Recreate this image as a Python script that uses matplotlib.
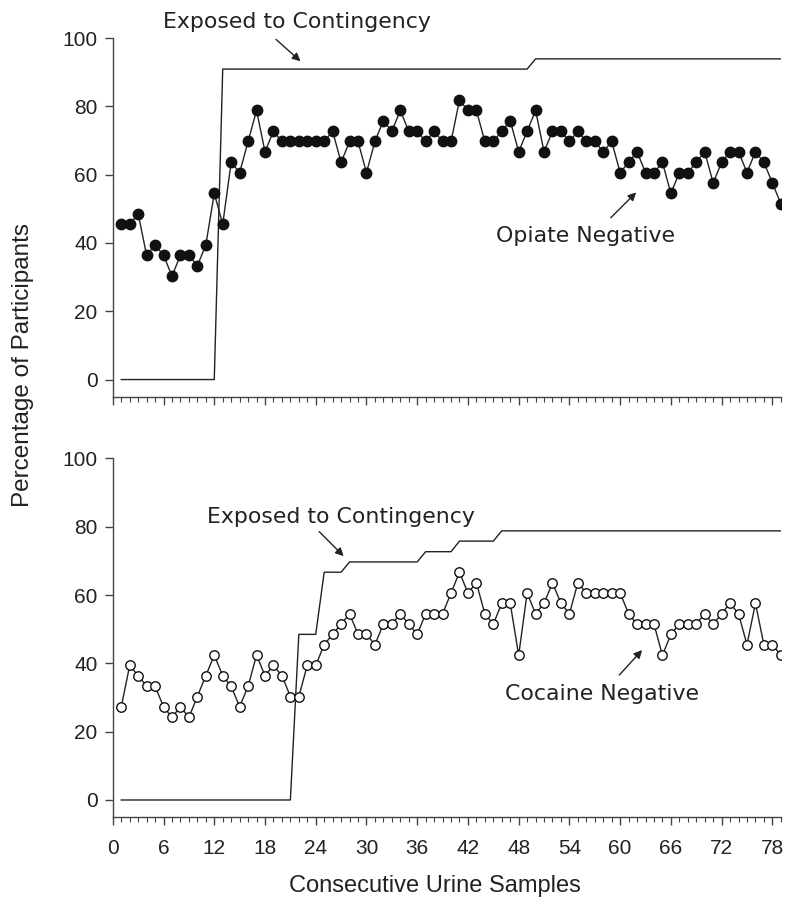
import matplotlib.pyplot as plt
from matplotlib.ticker import MultipleLocator

plt.rcParams['font.family'] = ['Liberation Sans', 'DejaVu Sans']

# sample number 1..79
samples = list(range(1, 80))

opiate_neg = [45.5, 45.5, 48.5, 36.4, 39.4, 36.4, 30.3, 36.4, 36.4, 33.3,
              39.4, 54.5, 45.5, 63.6, 60.6, 69.7, 78.8, 66.7, 72.7, 69.7,
              69.7, 69.7, 69.7, 69.7, 69.7, 72.7, 63.6, 69.7, 69.7, 60.6,
              69.7, 75.8, 72.7, 78.8, 72.7, 72.7, 69.7, 72.7, 69.7, 69.7,
              81.8, 78.8, 78.8, 69.7, 69.7, 72.7, 75.8, 66.7, 72.7, 78.8,
              66.7, 72.7, 72.7, 69.7, 72.7, 69.7, 69.7, 66.7, 69.7, 60.6,
              63.6, 66.7, 60.6, 60.6, 63.6, 54.5, 60.6, 60.6, 63.6, 66.7,
              57.6, 63.6, 66.7, 66.7, 60.6, 66.7, 63.6, 57.6, 51.5]

cocaine_neg = [27.3, 39.4, 36.4, 33.3, 33.3, 27.3, 24.2, 27.3, 24.2, 30.3,
               36.4, 42.4, 36.4, 33.3, 27.3, 33.3, 42.4, 36.4, 39.4, 36.4,
               30.3, 30.3, 39.4, 39.4, 45.5, 48.5, 51.5, 54.5, 48.5, 48.5,
               45.5, 51.5, 51.5, 54.5, 51.5, 48.5, 54.5, 54.5, 54.5, 60.6,
               66.7, 60.6, 63.6, 54.5, 51.5, 57.6, 57.6, 42.4, 60.6, 54.5,
               57.6, 63.6, 57.6, 54.5, 63.6, 60.6, 60.6, 60.6, 60.6, 60.6,
               54.5, 51.5, 51.5, 51.5, 42.4, 48.5, 51.5, 51.5, 51.5, 54.5,
               51.5, 54.5, 57.6, 54.5, 45.5, 57.6, 45.5, 45.5, 42.4]

# exposed-to-contingency step lines (breakpoints)
opi_exp_x = [1, 12, 13, 49, 50, 79]
opi_exp_y = [0, 0, 90.9, 90.9, 93.9, 93.9]
coc_exp_x = [1, 21, 22, 24, 25, 27, 28, 36, 37, 40, 41, 45, 46, 79]
coc_exp_y = [0, 0, 48.5, 48.5, 66.7, 66.7, 69.7, 69.7, 72.7, 72.7,
             75.8, 75.8, 78.8, 78.8]

LINE = '#222222'
AXC = '#444444'
TXT = '#222222'
ANN_FONT = ['DejaVu Sans']

fig = plt.figure(figsize=(8, 9.16), dpi=100)
ax1 = fig.add_axes([0.141, 0.567, 0.835, 0.3915])
ax2 = fig.add_axes([0.141, 0.108, 0.835, 0.3915])


def style_axis(ax, show_xlabels):
    ax.set_xlim(0, 79)
    ax.set_ylim(-5, 100)
    for s in ['top', 'right']:
        ax.spines[s].set_visible(False)
    for s in ['left', 'bottom']:
        ax.spines[s].set_color(AXC)
        ax.spines[s].set_linewidth(1.0)
    ax.xaxis.set_major_locator(MultipleLocator(6))
    ax.xaxis.set_minor_locator(MultipleLocator(1))
    ax.yaxis.set_major_locator(MultipleLocator(20))
    ax.tick_params(axis='x', which='major', length=6, width=1, color=AXC,
                   labelsize=15, pad=10, labelbottom=show_xlabels,
                   labelcolor=TXT)
    ax.tick_params(axis='x', which='minor', length=3.5, width=0.8, color=AXC)
    ax.tick_params(axis='y', which='major', length=6, width=1, color=AXC,
                   labelsize=15, pad=5, labelcolor=TXT)


def arrow(ax, tail, head):
    ax.annotate('', xy=head, xytext=tail, annotation_clip=False,
                arrowprops=dict(arrowstyle='-|>', color=LINE, lw=1,
                                mutation_scale=12, shrinkA=0, shrinkB=0))


def label(ax, x, y, s):
    ax.text(x, y, s, ha='center', va='center', fontsize=15.8, color=TXT,
            family=ANN_FONT, clip_on=False)


# top panel: opiate
ax1.plot(opi_exp_x, opi_exp_y, color=LINE, lw=1.0)
ax1.plot(samples, opiate_neg, color=LINE, lw=1.0, marker='o', ms=7.5,
         mfc='#111111', mec='#111111')
style_axis(ax1, False)

label(ax1, 21.8, 104.8, 'Exposed to Contingency')
arrow(ax1, (19.3, 99.6), (22.2, 93.2))
label(ax1, 55.9, 42, 'Opiate Negative')
arrow(ax1, (58.9, 47.4), (61.9, 54.8))

# bottom panel: cocaine
ax2.plot(coc_exp_x, coc_exp_y, color=LINE, lw=1.0)
ax2.plot(samples, cocaine_neg, color=LINE, lw=1.0, marker='o', ms=6.8,
         mfc='white', mec='#111111', mew=1.0)
style_axis(ax2, True)
ax2.set_xlabel('Consecutive Urine Samples', fontsize=17, labelpad=12,
               color=TXT)
ax2.xaxis.label.set_x(0.482)

label(ax2, 27.0, 83, 'Exposed to Contingency')
arrow(ax2, (24.4, 78.6), (27.3, 71.4))
label(ax2, 57.8, 31, 'Cocaine Negative')
arrow(ax2, (59.9, 36.6), (62.6, 43.9))

fig.text(0.029, 0.6015, 'Percentage of Participants', rotation=90,
         ha='center', va='center', fontsize=17.5, color=TXT)

fig.savefig('out.png', dpi=100)
